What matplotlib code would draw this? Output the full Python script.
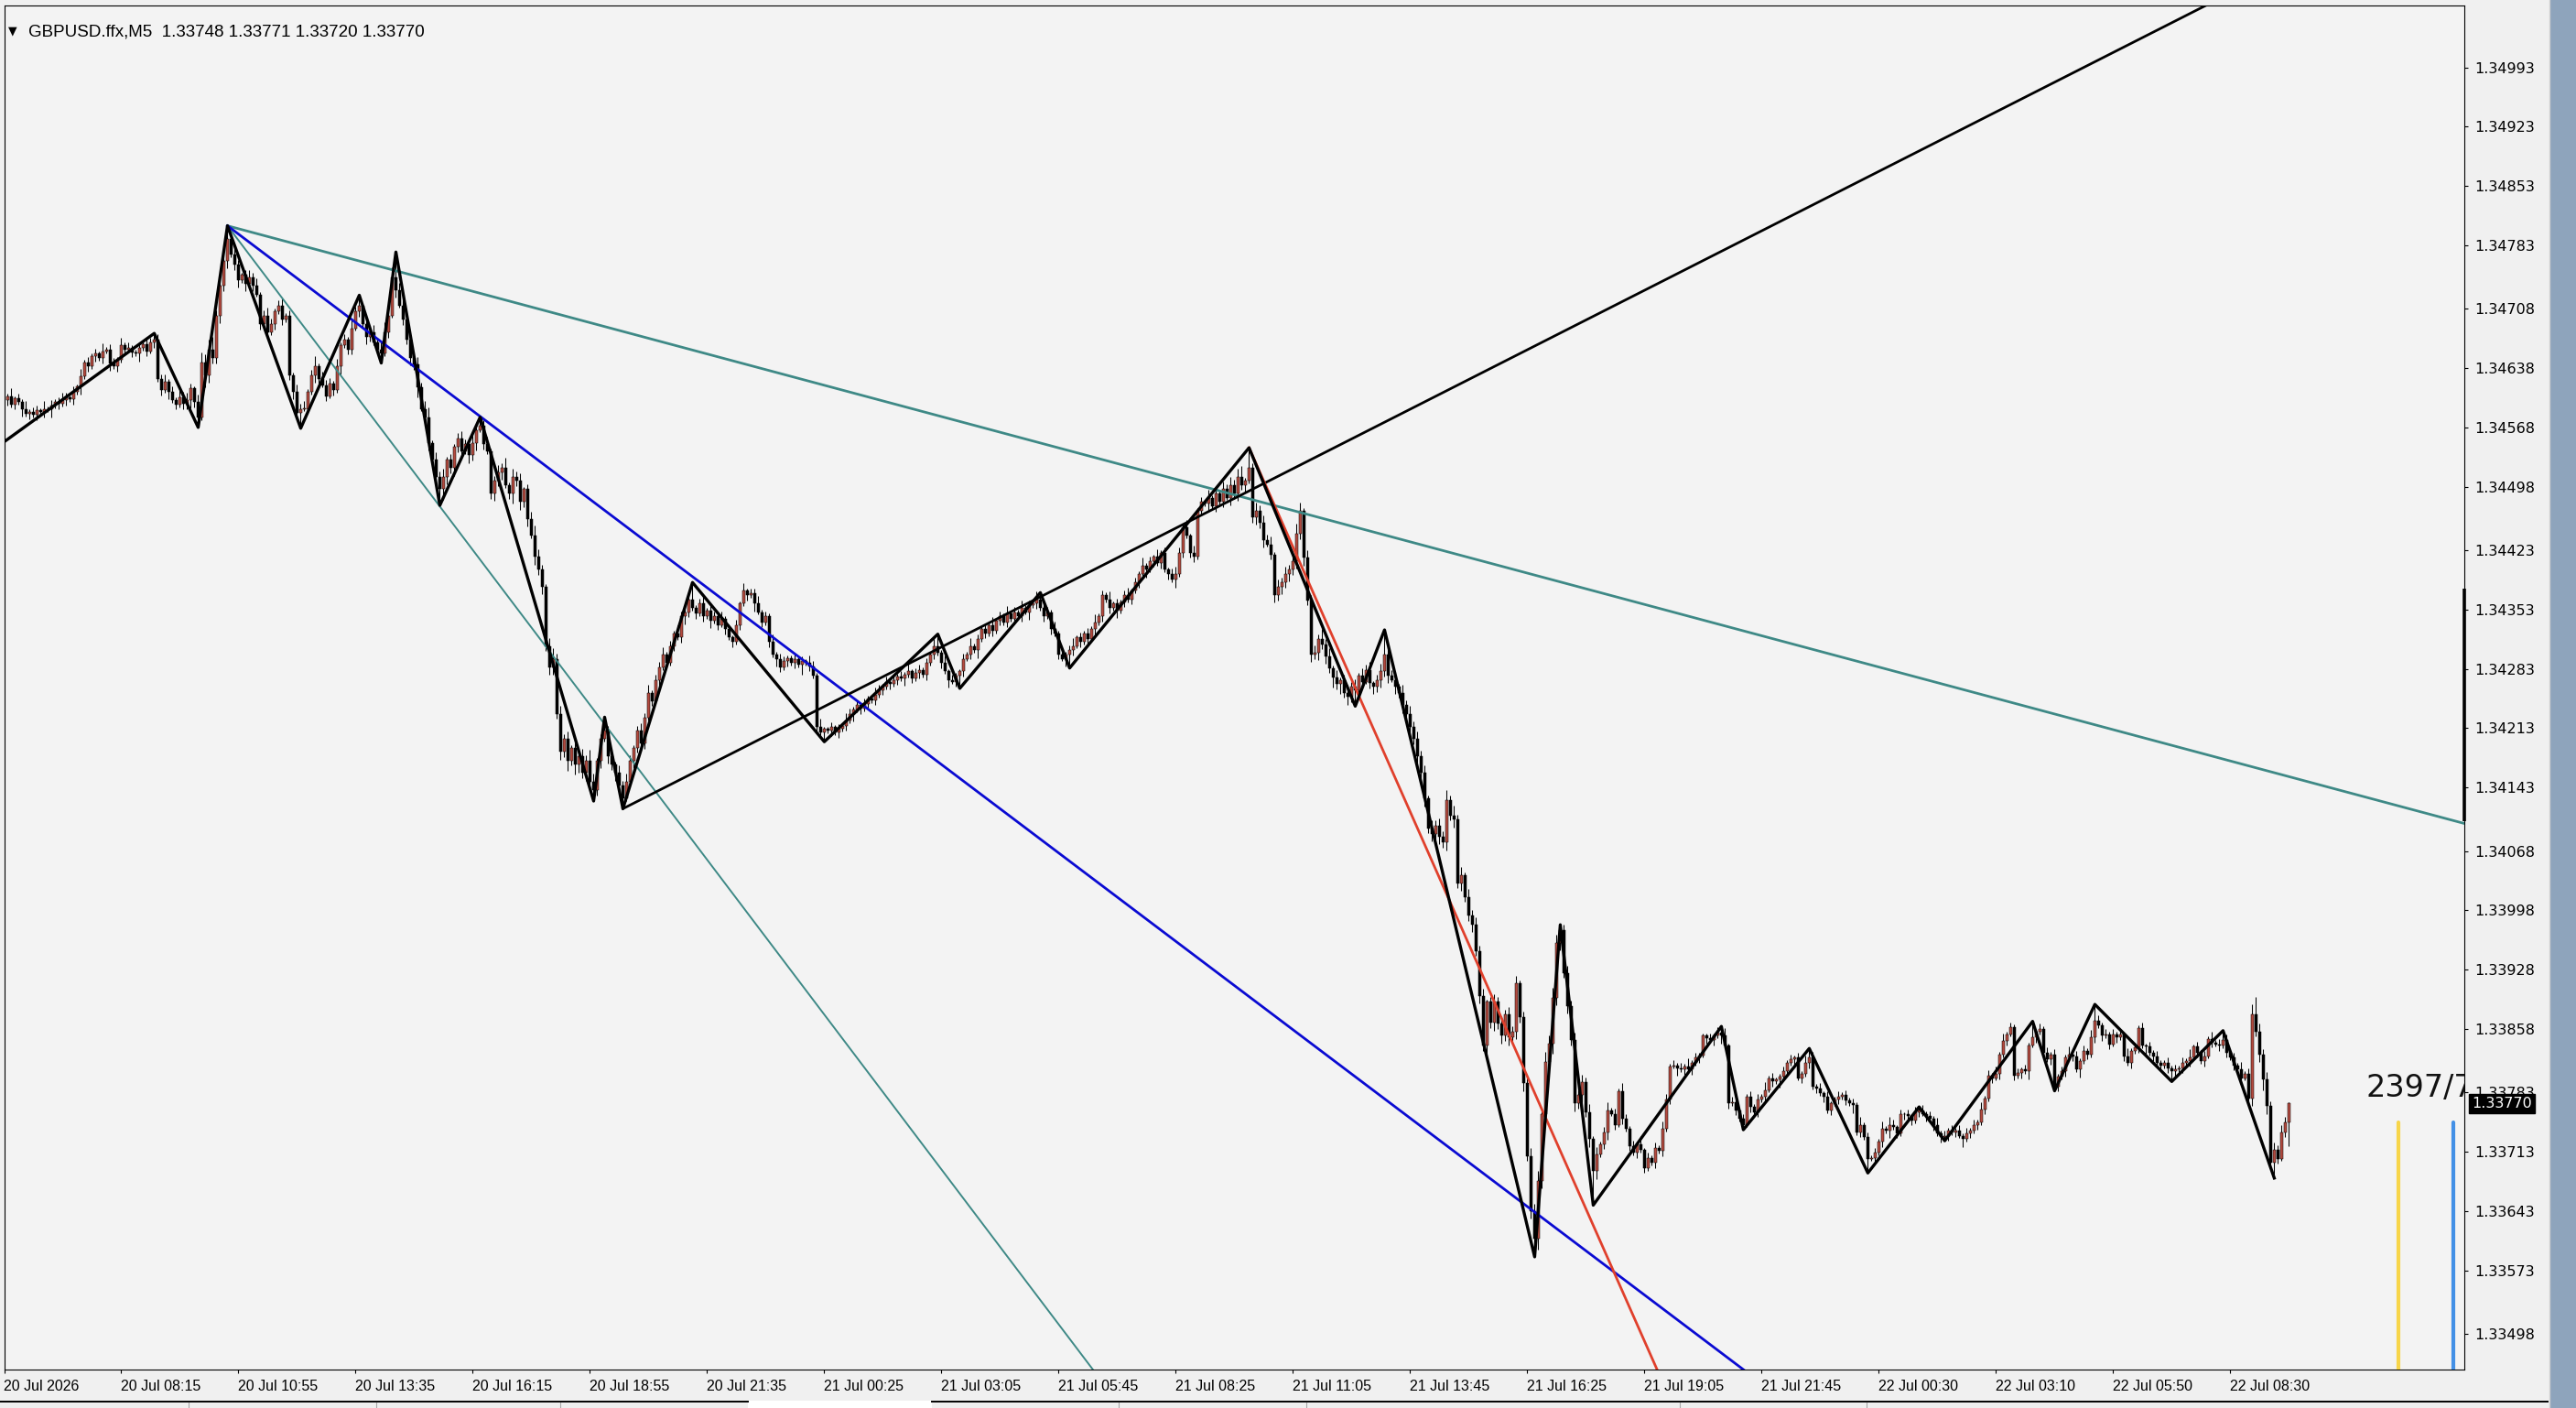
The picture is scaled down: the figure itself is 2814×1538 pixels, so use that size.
import numpy as np
import matplotlib
matplotlib.use("Agg")
import matplotlib.pyplot as plt
import matplotlib.transforms as mtransforms
from matplotlib.patches import Rectangle
from matplotlib.lines import Line2D

plt.rcParams['font.family'] = ['DejaVu Sans']

# --- dane wykresu ---
symbol = "GBPUSD.ffx,M5"
last_ohlc = [1.33748, 1.33771, 1.33720, 1.33770]

# ceny zamkniecia w punktach powyzej 1.33000 (1 punkt = 0.00001), swieca 0..624
base_price = 1.33000
point = 0.00001
first_open = 1600
close_pts = [
    1600, 1605, 1595, 1602, 1598, 1590, 1584, 1586, 1583, 1588,   # 0
    1586, 1590, 1589, 1594, 1598, 1596, 1600, 1603, 1601, 1610,
    1616, 1628, 1645, 1640, 1652, 1655, 1650, 1658, 1660, 1644,
    1640, 1648, 1665, 1660, 1662, 1657, 1655, 1662, 1666, 1658,
    1668, 1672, 1625, 1612, 1622, 1610, 1600, 1595, 1604, 1596,   # 40
    1600, 1614, 1598, 1580, 1645, 1630, 1660, 1650, 1700, 1735,
    1765, 1790, 1772, 1760, 1742, 1748, 1738, 1745, 1735, 1725,
    1690, 1700, 1680, 1690, 1705, 1712, 1695, 1700, 1630, 1610,
    1585, 1590, 1590, 1610, 1630, 1640, 1625, 1618, 1605, 1620,   # 80
    1612, 1640, 1665, 1672, 1660, 1685, 1705, 1712, 1690, 1675,
    1680, 1668, 1660, 1655, 1680, 1700, 1745, 1730, 1712, 1695,
    1672, 1650, 1642, 1615, 1590, 1580, 1550, 1530, 1510, 1495,
    1510, 1530, 1520, 1545, 1555, 1540, 1548, 1535, 1550, 1565,   # 120
    1570, 1548, 1540, 1490, 1505, 1515, 1520, 1500, 1490, 1510,
    1505, 1480, 1495, 1460, 1440, 1415, 1400, 1380, 1310, 1285,
    1295, 1230, 1185, 1200, 1175, 1190, 1170, 1180, 1160, 1175,
    1150, 1140, 1175, 1200, 1210, 1180, 1170, 1160, 1145, 1130,   # 160
    1150, 1175, 1190, 1210, 1195, 1225, 1255, 1245, 1270, 1285,
    1300, 1290, 1310, 1325, 1320, 1345, 1350, 1365, 1355, 1348,
    1360, 1345, 1352, 1340, 1345, 1335, 1342, 1330, 1320, 1315,
    1335, 1360, 1375, 1370, 1372, 1360, 1350, 1338, 1345, 1315,   # 200
    1300, 1295, 1285, 1292, 1296, 1290, 1294, 1288, 1292, 1290,
    1286, 1275, 1215, 1208, 1212, 1210, 1214, 1208, 1212, 1216,
    1222, 1230, 1235, 1240, 1236, 1242, 1248, 1246, 1252, 1258,
    1262, 1268, 1265, 1270, 1274, 1272, 1276, 1280, 1272, 1278,   # 240
    1282, 1276, 1290, 1300, 1310, 1302, 1290, 1280, 1270, 1268,
    1275, 1280, 1295, 1300, 1310, 1305, 1318, 1330, 1325, 1335,
    1328, 1340, 1345, 1338, 1348, 1342, 1350, 1345, 1355, 1350,
    1358, 1360, 1365, 1355, 1345, 1350, 1330, 1325, 1300, 1295,   # 280
    1300, 1305, 1310, 1320, 1315, 1325, 1318, 1330, 1338, 1345,
    1370, 1365, 1355, 1360, 1352, 1362, 1370, 1365, 1375, 1385,
    1395, 1405, 1400, 1410, 1415, 1408, 1420, 1400, 1395, 1388,
    1395, 1420, 1450, 1440, 1420, 1415, 1470, 1480, 1478, 1485,   # 320
    1475, 1490, 1480, 1495, 1485, 1500, 1490, 1510, 1500, 1505,
    1520, 1462, 1470, 1455, 1435, 1430, 1418, 1370, 1380, 1385,
    1395, 1400, 1410, 1442, 1470, 1414, 1364, 1300, 1302, 1318,
    1312, 1298, 1284, 1273, 1265, 1270, 1255, 1250, 1262, 1258,   # 360
    1275, 1268, 1282, 1266, 1262, 1270, 1280, 1300, 1275, 1270,
    1262, 1255, 1240, 1230, 1215, 1200, 1180, 1160, 1130, 1095,
    1088, 1098, 1085, 1078, 1128, 1110, 1105, 1030, 1040, 1014,
    992, 981, 950, 897, 838, 890, 865, 890, 864, 850,             # 400
    875, 848, 855, 912, 872, 794, 708, 643, 610, 679,
    758, 819, 841, 895, 960, 975, 924, 885, 845, 770,
    780, 795, 760, 728, 690, 710, 722, 736, 762, 758,
    745, 785, 752, 740, 720, 712, 722, 715, 694, 706,             # 440
    700, 718, 714, 740, 775, 814, 815, 812, 810, 814,
    810, 818, 824, 827, 850, 847, 845, 850, 854, 850,
    838, 770, 772, 762, 752, 745, 778, 766, 760, 775,
    778, 786, 800, 796, 798, 802, 808, 818, 822, 824,             # 480
    800, 805, 818, 825, 790, 788, 782, 778, 762, 770,
    775, 778, 780, 774, 770, 768, 736, 745, 730, 705,
    706, 712, 725, 740, 738, 745, 742, 735, 757, 757,
    755, 750, 760, 762, 758, 755, 752, 744, 735, 730,             # 520
    732, 738, 736, 738, 732, 728, 735, 738, 745, 748,
    763, 776, 803, 800, 805, 828, 844, 852, 860, 803,
    806, 810, 808, 839, 848, 855, 858, 830, 822, 828,
    790, 802, 808, 825, 828, 826, 810, 820, 832, 828,             # 560
    848, 868, 862, 850, 852, 840, 852, 848, 852, 826,
    818, 832, 836, 859, 838, 837, 830, 826, 818, 815,
    818, 812, 808, 810, 812, 818, 820, 825, 837, 830,
    820, 826, 846, 842, 840, 838, 845, 830, 824, 815,             # 600
    810, 800, 805, 776, 875, 855, 828, 798, 767, 700,
    715, 705, 736, 748, 770,
]

# knoty: jedna cyfra na swiece, w jednostkach po 3 punkty
wick_unit = 3
wick_up_rows = [
    "2131213122131212321213121", "2131221312112132122312132", "3213434524231321232312321",
    "2312132312413221312132213", "2323414232312323413231212", "3213232312324132312343213",
    "4232313232431232313232123", "2312231213221312312213121", "2131223121312211212132131",
    "1212132121211321212121312", "2121321312112131212131213", "1213121312213121231212131",
    "2131212312131213121232131", "3121312132323414232323132", "3234313232423131232313231",
    "2323231323232313232424231", "3232312323232312333424343", "3232323231312312132121312",
    "1213212121312111212131211", "2121213121121212131212121", "1212121312121313212121212",
    "1213121212121213121313121", "2121312121212131212131212", "1212131212121211212121312",
    "1213121212131247323232321",
]
wick_dn_rows = [
    "1212131212121312121213121", "2121312121213121212131212", "2324153223231231312121212",
    "1212312121321212131221213", "2123121312232412323243232", "2132312123231242323132323",
    "3232424323232313232312323", "2121312121232121213121212", "1212131212132121214121212",
    "1212121312121212121213121", "2121212131212121312121212", "1212131212121213121212121",
    "2121312121213121212131212", "2121312121323231232312323", "2323232323232424232323123",
    "2323132323232323232323232", "2323232323232323232434343", "3232323232312312121212121",
    "1212121312121212121312121", "2121212121312121212121212", "1212131212121213121212121",
    "2121212121312121212121212", "1213121212121212131212121", "2121212121312121212121212",
    "1212121212121232343232121",
]

# ZigZag: numer swiecy i cena wierzcholka
zz_bars = [0, 41, 53, 61, 81, 97, 103, 107, 119, 130, 161, 164, 169, 188, 224, 255,
           261, 283, 291, 340, 369, 377, 418, 425, 434, 469, 475, 493, 509, 523, 530,
           554, 560, 571, 592, 606, 620]
zz_prices = [1.34551, 1.34679, 1.34568, 1.34806, 1.34567, 1.34724, 1.34644, 1.34775,
             1.34476, 1.34580, 1.34127, 1.34226, 1.34118, 1.34385, 1.34197, 1.34324,
             1.34260, 1.34373, 1.34284, 1.34544, 1.34239, 1.34329, 1.33589, 1.33981,
             1.33650, 1.33861, 1.33739, 1.33835, 1.33688, 1.33766, 1.33726, 1.33867,
             1.33785, 1.33887, 1.33796, 1.33856, 1.33682]

# linie trendu (dwa punkty zaczepienia: swieca, cena), rysowane jako promienie w prawo
teal_upper = [(61, 1.34806), (300, 1.34530)]
teal_lower = [(61, 1.34806), (120, 1.34469)]
blue_line = [(61, 1.34806), (130, 1.34581)]
black_line = [(169, 1.34118), (340, 1.34493)]
red_line = [(340, 1.34544), (450, 1.33470)]

# pionowe znaczniki po prawej
marker_bars = [654, 669]
marker_colors = ['#f7d54a', '#4390e6']
marker_top = 1.33748
axis_bar = [1.34103, 1.34378]

info_text = "2397/7"
info_pos = (645, 1.33778)

x_tick_labels = ["20 Jul 2026", "20 Jul 08:15", "20 Jul 10:55", "20 Jul 13:35", "20 Jul 16:15",
                 "20 Jul 18:55", "20 Jul 21:35", "21 Jul 00:25", "21 Jul 03:05", "21 Jul 05:45",
                 "21 Jul 08:25", "21 Jul 11:05", "21 Jul 13:45", "21 Jul 16:25", "21 Jul 19:05",
                 "21 Jul 21:45", "22 Jul 00:30", "22 Jul 03:10", "22 Jul 05:50", "22 Jul 08:30"]
bars_per_label = 32
y_tick_values = [1.34993, 1.34923, 1.34853, 1.34783, 1.34708, 1.34638, 1.34568, 1.34498,
                 1.34423, 1.34353, 1.34283, 1.34213, 1.34143, 1.34068, 1.33998, 1.33928,
                 1.33858, 1.33783, 1.33713, 1.33643, 1.33573, 1.33498]

# --- przygotowanie swiec ---
n = len(close_pts)
up_digits = ''.join(wick_up_rows)
dn_digits = ''.join(wick_dn_rows)
assert n == 625 and len(up_digits) == n and len(dn_digits) == n

c = base_price + np.array(close_pts) * point
o = base_price + np.array([first_open] + close_pts[:-1]) * point
up = np.array([int(d) for d in up_digits]) * wick_unit * point
dn = np.array([int(d) for d in dn_digits]) * wick_unit * point
h = np.maximum(o, c) + up
l = np.minimum(o, c) - dn

# wierzcholki zigzaga to ekstrema swiec
for k in range(1, len(zz_bars)):
    b = zz_bars[k]
    if zz_prices[k] > zz_prices[k - 1]:
        h[b] = zz_prices[k]
    else:
        l[b] = zz_prices[k]

o[-1], h[-1], l[-1], c[-1] = last_ohlc
x = np.arange(n)

# --- rysunek ---
W, H = 2814, 1538
fig = plt.figure(figsize=(W / 100, H / 100), dpi=100, facecolor='#f0f0f0')
ax = fig.add_axes([4.5 / W, 1 - 1496 / H, (2692 - 4.5) / W, (1496 - 6) / H])
ax.set_facecolor('#f3f3f3')
ax.set_xlim(0, 671.9)
ax.set_ylim(1.33456, 1.35066)

bull = c >= o
body_col = np.where(bull, '#b34a3f', '#000000')
ax.vlines(x, l, h, color='black', lw=0.75, zorder=2)
ax.bar(x, np.maximum(np.abs(c - o), 0.4 * point), bottom=np.minimum(o, c), width=0.72,
       color=body_col, edgecolor='black', linewidth=0.35, zorder=2.5)

ax.plot(zz_bars, zz_prices, color='black', lw=2.4, zorder=4)


def ray(anchors, color, lw):
    (x1, y1), (x2, y2) = anchors
    slope = (y2 - y1) / (x2 - x1)
    x_end = 720
    ax.plot([x1, x_end], [y1, y1 + slope * (x_end - x1)], color=color, lw=lw, zorder=3.5)


ray(teal_upper, '#3e8986', 2.0)
ray(teal_lower, '#3e8986', 1.4)
ray(blue_line, '#0a0ad2', 2.0)
ray(black_line, '#000000', 2.0)
ray(red_line, '#e0402c', 2.0)

for b, col in zip(marker_bars, marker_colors):
    ax.plot([b, b], [marker_top, 1.33300], color=col, lw=3.0, solid_capstyle='round', zorder=3)

ax.text(info_pos[0], info_pos[1], info_text, fontsize=24, color='#111111', ha='left',
        va='baseline', clip_on=True, zorder=5)

# osie
for sp in ax.spines.values():
    sp.set_color('black')
    sp.set_linewidth(0.8)

trans_y = mtransforms.blended_transform_factory(ax.transAxes, ax.transData)
ax.plot([1.0, 1.0], axis_bar, color='black', lw=2.6, transform=trans_y, clip_on=False,
        solid_capstyle='butt', zorder=6)

ax.yaxis.tick_right()
ax.set_yticks(y_tick_values)
ax.set_yticklabels([f"{v:.5f}" for v in y_tick_values])
ax.tick_params(axis='y', direction='out', length=3, width=0.8, pad=5, labelsize=11.5)

ax.set_xticks(np.arange(len(x_tick_labels)) * bars_per_label)
ax.set_xticklabels(x_tick_labels)
ax.tick_params(axis='x', direction='out', length=3, width=0.8, pad=5, labelsize=11.5)
for lab in ax.get_xticklabels():
    lab.set_ha('left')
    lab.set_family(['Liberation Sans', 'DejaVu Sans'])

lbl_trans = mtransforms.offset_copy(trans_y, fig=fig, x=8, y=0, units='dots')
ax.text(1.0, last_ohlc[3], f"{last_ohlc[3]:.5f}", transform=lbl_trans, fontsize=11.5,
        color='white', ha='left', va='center', clip_on=False, zorder=7,
        bbox=dict(boxstyle='square,pad=0.2', fc='black', ec='black'))

# naglowek
title = symbol + "  " + " ".join(f"{v:.5f}" for v in last_ohlc)
fig.text(9 / W, 1 - 34 / H, "\u25bc", fontsize=9, va='center', ha='left')
fig.text(31 / W, 1 - 35 / H, title, fontsize=13.5, va='center', ha='left',
         family=['Liberation Sans', 'DejaVu Sans'])

# ramka okna: pasek zakladek i prawa krawedz
fig.add_artist(Rectangle((0, 0), 2786 / W, 8 / H, transform=fig.transFigure,
                         fc='#efefef', ec='none', zorder=0))
fig.add_artist(Rectangle((817 / W, 0), 201 / W, 8 / H, transform=fig.transFigure,
                         fc='white', ec='none', zorder=1))
for x0, x1 in [(0, 817), (1018, 2783)]:
    fig.add_artist(Line2D([x0 / W, x1 / W], [1 - 1531 / H] * 2, transform=fig.transFigure,
                          color='black', lw=1.4))
for sx in [206, 411, 612, 1222, 1427, 1835, 2039]:
    fig.add_artist(Line2D([sx / W] * 2, [0, 6 / H], transform=fig.transFigure,
                          color='#a8a8a8', lw=0.8))
fig.add_artist(Rectangle((2786 / W, 0), 28 / W, 1, transform=fig.transFigure,
                         fc='#8ea4bc', ec='none', zorder=0))
fig.add_artist(Line2D([2785 / W] * 2, [0, 1], transform=fig.transFigure, color='#cfcfcf', lw=1))

fig.savefig("out.png", dpi=100, facecolor=fig.get_facecolor())
